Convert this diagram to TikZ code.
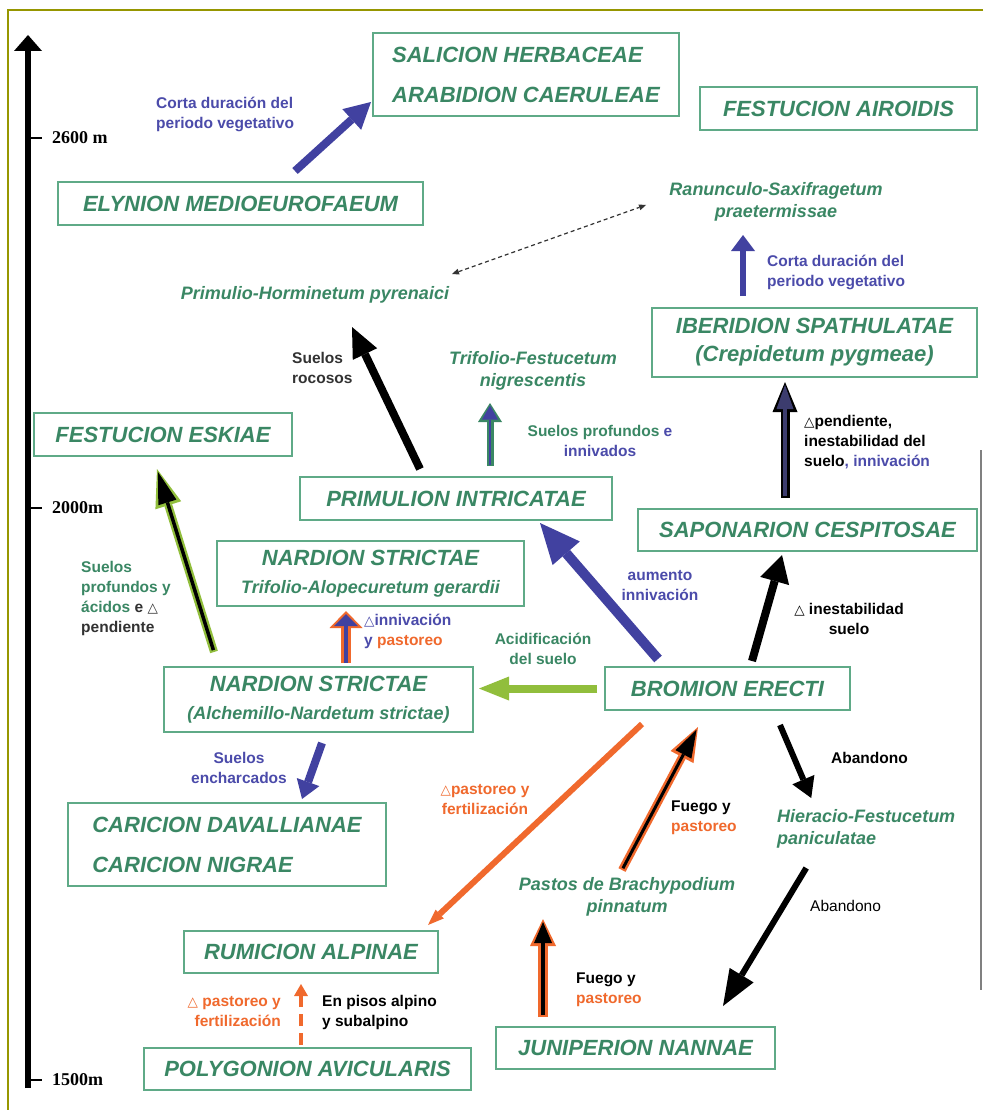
\documentclass[tikz,border=0pt]{standalone}
\usepackage{fontspec}
\setmainfont{Liberation Sans}
\newfontfamily\axisfont{Liberation Serif}
\newfontfamily\symfont{DejaVu Sans}
\usetikzlibrary{positioning, calc, arrows.meta}

\definecolor{boxtext}{RGB}{58,135,100}
\definecolor{boxline}{RGB}{95,170,135}
\definecolor{arrblue}{RGB}{65,65,160}
\definecolor{lblblue}{RGB}{75,75,170}
\definecolor{arrorange}{RGB}{240,105,45}
\definecolor{arrlime}{RGB}{145,190,60}
\definecolor{slate}{RGB}{60,60,110}
\definecolor{frameolive}{RGB}{150,150,0}
\definecolor{txtgray}{RGB}{50,50,50}

\newcommand{\incr}{{\symfont\mdseries\fontsize{13.5}{15}\selectfont △}}
\newcommand{\boxfont}{\fontsize{22}{28}\selectfont\bfseries\itshape}
\newcommand{\spfont}{\fontsize{18}{22}\selectfont\bfseries\itshape}
\newcommand{\lblfont}{\fontsize{15.5}{20}\selectfont\bfseries}
\newcommand{\axfont}{\axisfont\fontsize{18}{22}\selectfont\bfseries}

\begin{document}
\begin{tikzpicture}[
		x=1pt, y=-1pt,
		box/.style={draw=boxline, line width=2pt, rectangle, inner sep=0pt, align=center, text=boxtext, font=\boxfont},
		species/.style={inner sep=0pt, align=center, text=boxtext, font=\spfont},
		lbl/.style={inner sep=0pt, font=\lblfont},
		arr/.style n args={4}{draw=#1, line width=#2, -{Triangle[length=#3, width=#4, line width=0pt]}},
		dotarr/.style={draw=black!80, line width=1.2pt, dash pattern=on 4pt off 3pt, {Triangle[length=7pt, width=6pt, line width=0pt]}-{Triangle[length=7pt, width=6pt, line width=0pt]}},
	]
	\path[use as bounding box, fill=white] (0,0) rectangle (983,1110);

	% frame and altitude axis
	\draw[frameolive, line width=1.5pt] (983,10) -- (8,10) -- (8,1110);
	\draw[black!50, line width=2pt] (981,450) -- (981,990);
	\coordinate (axbot) at (28,1088);
	\coordinate (axtop) at (28,35);
	\draw[arr={black}{6pt}{16pt}{28pt}] (axbot) -- (axtop);
	\draw[line width=2pt] (28,138) -- (42,138);
	\draw[line width=2pt] (28,508) -- (42,508);
	\draw[line width=2pt] (28,1080) -- (42,1080);
	\node[anchor=west, inner sep=0pt, font=\axfont] (m2600) at (52,138) {2600 m};
	\node[anchor=west, inner sep=0pt, font=\axfont] (m2000) at (52,508) {2000m};
	\node[anchor=west, inner sep=0pt, font=\axfont] (m1500) at (52,1080) {1500m};

	% alliances and associations
	\node[box, minimum width=306pt, minimum height=83pt, align=left] (sal) at (526,74.5) {SALICION HERBACEAE\\[12pt]ARABIDION CAERULEAE};
	\node[box, minimum width=277pt, minimum height=43pt] (fair) at (838.5,108.5) {FESTUCION AIROIDIS};
	\node[box, minimum width=365pt, minimum height=43pt] (ely) at (240.5,203.5) {ELYNION MEDIOEUROFAEUM};
	\node[species] (ran) at (776,202) {Ranunculo-Saxifragetum\\praetermissae};
	\node[species] (primulio) at (315,295) {Primulio-Horminetum pyrenaici};
	\node[box, minimum width=325pt, minimum height=69pt] (iber) at (814.5,342.5) {IBERIDION SPATHULATAE\\(Crepidetum pygmeae)};
	\node[species] (trif) at (533,371) {Trifolio-Festucetum\\nigrescentis};
	\node[box, minimum width=258pt, minimum height=43pt] (esk) at (163,434.5) {FESTUCION ESKIAE};
	\node[box, minimum width=312pt, minimum height=43pt] (prim) at (456,498.5) {PRIMULION INTRICATAE};
	\node[box, minimum width=339pt, minimum height=42pt] (sap) at (807.5,530) {SAPONARION CESPITOSAE};
	\node[box, minimum width=307pt, minimum height=65pt] (nart) at (370.5,573.5) {NARDION STRICTAE\\{\spfont Trifolio-Alopecuretum gerardii}};
	\node[box, minimum width=309pt, minimum height=65pt] (nara) at (318.5,699.5) {NARDION STRICTAE\\{\spfont (Alchemillo-Nardetum strictae)}};
	\node[box, minimum width=245pt, minimum height=43pt] (brom) at (727.5,688.5) {BROMION ERECTI};
	\node[box, minimum width=318pt, minimum height=83pt, align=left] (car) at (227,844.5) {CARICION DAVALLIANAE\\[12pt]CARICION NIGRAE};
	\node[species, align=left, anchor=west] (hier) at (777,829) {Hieracio-Festucetum\\paniculatae};
	\node[species] (pastos) at (627,897) {Pastos de Brachypodium\\pinnatum};
	\node[box, minimum width=254pt, minimum height=42pt] (rum) at (311,952) {RUMICION ALPINAE};
	\node[box, minimum width=279pt, minimum height=42pt] (jun) at (635.5,1048) {JUNIPERION NANNAE};
	\node[box, minimum width=327pt, minimum height=42pt] (poly) at (307.5,1069) {POLYGONION AVICULARIS};

	% labels of the transitions
	\node[lbl, text=lblblue, align=left, anchor=west] (lcorta1) at (156,114) {Corta duración del\\periodo vegetativo};
	\node[lbl, text=lblblue, align=left, anchor=west] (lcorta2) at (767,272) {Corta duración del\\periodo vegetativo};
	\node[lbl, text=txtgray, align=left, anchor=west] (lrocosos) at (292,368) {Suelos\\rocosos};
	\node[lbl, text=lblblue, align=center] (lprof) at (600,441) {\textcolor{boxtext}{Suelos profundos} e\\innivados};
	\node[lbl, align=left, anchor=west] (lpend) at (804,442) {\incr pendiente,\\inestabilidad del\\suelo\textcolor{lblblue}{, innivación}};
	\node[lbl, text=lblblue, align=center] (laum) at (660,586) {aumento\\innivación};
	\node[lbl, align=center] (linest) at (849,619) {\incr\ inestabilidad\\suelo};
	\node[lbl, text=boxtext, align=center] (lacid) at (543,649) {Acidificación\\del suelo};
	\node[lbl, text=lblblue, align=left, anchor=west] (linniv) at (364,631) {\incr innivación\\y \textcolor{arrorange}{pastoreo}};
	\node[lbl, text=txtgray, align=left, anchor=west] (lacidos) at (81,598) {\textcolor{boxtext}{Suelos}\\\textcolor{boxtext}{profundos y}\\\textcolor{boxtext}{ácidos} e \incr\\pendiente};
	\node[lbl, text=lblblue, align=center] (lench) at (239,768) {Suelos\\encharcados};
	\node[lbl, text=arrorange, align=center] (lpast1) at (485,800) {\incr pastoreo y\\fertilización};
	\node[lbl, align=left, anchor=west] (lfuego1) at (671,818) {Fuego y\\\textcolor{arrorange}{pastoreo}};
	\node[lbl, anchor=west] (laband1) at (831,758) {Abandono};
	\node[lbl, font=\lblfont\mdseries, anchor=west] (laband2) at (810,906) {Abandono};
	\node[lbl, align=left, anchor=west] (lfuego2) at (576,990) {Fuego y\\\textcolor{arrorange}{pastoreo}};
	\node[lbl, text=arrorange, align=right, anchor=east] (lpast2) at (281,1012) {\incr\ pastoreo y\\fertilización};
	\node[lbl, align=left, anchor=west] (lpisos) at (322,1012) {En pisos alpino\\y subalpino};

	% transitions
	\draw[arr={arrblue}{8pt}{26pt}{28pt}] ($(ely.north)+(54.5,-10)$) -- ($(sal.west)+(-1,27.5)$);
	\draw[dotarr] ($(primulio.center)+(137,-21)$) -- ($(ran.center)+(-130,3)$);
	\draw[arr={arrblue}{6pt}{16pt}{24pt}] ($(iber.north)+(-71.5,-11)$) -- ($(ran.center)+(-33,33)$);
	\draw[arr={black}{8pt}{30pt}{27pt}] ($(prim.north)+(-36,-7)$) -- ($(primulio.center)+(37,32)$);

	\coordinate (e1) at ($(prim.north)+(34,-10)$);
	\coordinate (e2) at ($(trif.center)+(-43,32)$);
	\draw[arr={boxtext}{7pt}{19pt}{24pt}] (e1) -- (e2);
	\draw[arr={arrblue}{2.5pt}{14pt}{16pt}, shorten >=2.5pt, shorten <=1.5pt] (e1) -- (e2);

	\coordinate (f1) at ($(sap.north)+(-22.5,-10)$);
	\coordinate (f2) at ($(iber.south)+(-29.5,4)$);
	\draw[arr={black}{9pt}{30pt}{25pt}] (f1) -- (f2);
	\draw[arr={slate}{4.5pt}{24pt}{17pt}, shorten >=3pt, shorten <=2pt] (f1) -- (f2);

	\draw[arr={arrblue}{10pt}{40pt}{36pt}] ($(brom.north)+(-69.5,-7)$) -- ($(prim.south)+(84,2)$);
	\draw[arr={black}{8pt}{27pt}{30pt}] ($(brom.north)+(24.5,-5)$) -- ($(sap.south)+(-25.5,3)$);
	\draw[arr={arrlime}{8pt}{30pt}{24pt}] ($(brom.west)+(-7,0)$) -- ($(nara.east)+(5,-11)$);

	\coordinate (j1) at ($(nara.north)+(27.5,-3)$);
	\coordinate (j2) at ($(nart.south)+(-24.5,4)$);
	\draw[arr={arrorange}{10pt}{17pt}{33pt}] (j1) -- (j2);
	\draw[arr={arrblue}{4pt}{12pt}{24pt}, shorten >=3pt] (j1) -- (j2);

	\coordinate (k1) at ($(nara.north)+(-104.5,-14)$);
	\coordinate (k2) at ($(esk.south)+(-6,12)$);
	\draw[arr={arrlime}{8pt}{38pt}{27pt}] (k1) -- (k2);
	\draw[arr={black}{3.5pt}{32pt}{19pt}, shorten >=3pt, shorten <=2pt] (k1) -- (k2);

	\draw[arr={arrblue}{8pt}{18pt}{24pt}] ($(nara.south)+(3.5,10)$) -- ($(car.north)+(75,-3)$);
	\draw[arr={arrorange}{6pt}{16pt}{12pt}] ($(brom.south)+(-85.5,13)$) -- ($(rum.north east)+(-11,-5)$);

	\coordinate (n1) at ($(pastos.center)+(-5,-27)$);
	\coordinate (n2) at ($(brom.south)+(-29.5,16)$);
	\draw[arr={arrorange}{8pt}{34pt}{26pt}] (n1) -- (n2);
	\draw[arr={black}{3pt}{28pt}{18pt}, shorten >=3pt, shorten <=2pt] (n1) -- (n2);

	\draw[arr={black}{6pt}{20pt}{24pt}] ($(brom.south)+(52.5,14)$) -- ($(hier.center)+(-55,-31)$);
	\draw[arr={black}{6pt}{36pt}{28pt}] ($(hier.center)+(-60,39)$) -- ($(jun.north east)+(-53,-20)$);

	\coordinate (q1) at ($(jun.north)+(-92.5,-9)$);
	\coordinate (q2) at ($(pastos.center)+(-84,22)$);
	\draw[arr={arrorange}{10pt}{27pt}{26pt}] (q1) -- (q2);
	\draw[arr={black}{4pt}{21pt}{18pt}, shorten >=3pt, shorten <=2pt] (q1) -- (q2);

	\draw[arr={arrorange}{4pt}{12pt}{14pt}, dash pattern=on 12pt off 7pt] ($(poly.north)+(-6.5,-2)$) -- ($(rum.south)+(-10,10)$);
\end{tikzpicture}
\end{document}
